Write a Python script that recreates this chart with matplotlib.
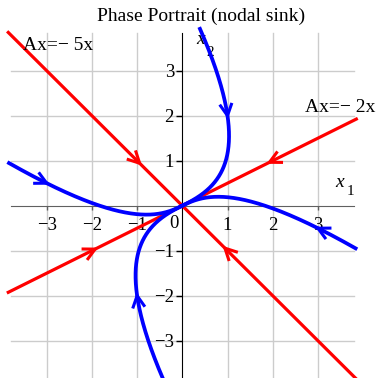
import numpy as np
import matplotlib
matplotlib.use("Agg")
import matplotlib.pyplot as plt

# x' = A x with A = P diag(eigvals) P^-1
eigvals = [-5.0, -2.0]
eigvecs = [(1.0, -1.0), (2.0, 1.0)]
eig_labels = ["Ax=\u2212 5x", "Ax=\u2212 2x"]
# trajectories through these points, with an arrow at each one
starts = [(1.0, 2.0), (-1.0, -2.0), (-3.0, 0.5), (3.0, -0.5)]
# arrows on the straight-line solutions
line_marks = [(-1.0, 1.0), (1.0, -1.0), (2.0, 1.0), (-2.0, -1.0)]
ticks = [-3, -2, -1, 1, 2, 3]
tick_labels = ["\u22123", "\u22122", "\u22121", "1", "2", "3"]
title = "Phase Portrait (nodal sink)"

plt.rcParams["font.family"] = ["Liberation Serif", "DejaVu Serif"]

P = np.array(eigvecs).T
A = P @ np.diag(eigvals) @ np.linalg.inv(P)

LIM = 3.85
BLUE = "#0000ff"
RED = "#ff0000"


def chevron(ax, tip, d, color, L=0.3, ang=27, lw=2.2):
    d = np.asarray(d, float)
    d = d / np.hypot(*d)
    xs, ys = [], []
    for s in (1, -1):
        a = np.radians(s * ang)
        R = np.array([[np.cos(a), -np.sin(a)], [np.sin(a), np.cos(a)]])
        arm = tip - L * (R @ d)
        xs.append(arm[0])
        ys.append(arm[1])
    ax.plot([xs[0], tip[0], xs[1]], [ys[0], tip[1], ys[1]], color=color, lw=lw,
            solid_joinstyle="miter", solid_capstyle="butt", zorder=5)


fig = plt.figure(figsize=(3.8, 3.78), dpi=100)
ax = fig.add_axes([0, 0, 1, 1])
ax.set_xlim(-182.3 / 45.2, (380 - 182.3) / 45.2)
ax.set_ylim((205.7 - 378) / 45.0, 205.7 / 45.0)

# grid
for g in ticks:
    ax.plot([g, g], [-3.83, 3.83], color="#cccccc", lw=1, zorder=0)
    ax.plot([-3.8, 3.8], [g, g], color="#cccccc", lw=1, zorder=0)

for s in ("top", "right"):
    ax.spines[s].set_visible(False)
ax.spines["bottom"].set_position(("data", 0))
ax.spines["left"].set_position(("data", 0))
ax.spines["bottom"].set_bounds(-3.8, 3.8)
ax.spines["left"].set_bounds(-3.83, 3.83)
ax.spines["bottom"].set_color("#606060")
ax.spines["left"].set_color("black")
ax.set_xticks(ticks)
ax.set_xticklabels(tick_labels)
ax.set_yticks(ticks)
ax.set_yticklabels(tick_labels)
ax.tick_params(axis="x", direction="out", length=3, width=1, color="#606060", pad=5,
               labelsize=13.5)
ax.tick_params(axis="y", direction="out", length=4, width=1, color="black", pad=2,
               labelsize=13.5)
ax.text(-0.08, -0.2, "0", ha="right", va="top", fontsize=13.5)

# straight-line solutions along the eigenvectors
for v in eigvecs:
    v = np.array(v)
    s = np.linspace(-LIM, LIM, 2) / abs(v[0])
    ax.plot(s * v[0], s * v[1], color=RED, lw=2.3, zorder=3)
for p in line_marks:
    p = np.array(p)
    d = A @ p
    chevron(ax, p + 0.08 * d / np.hypot(*d), d, RED)

# trajectories through the start points
t = np.linspace(-0.6, 6, 4000)
Pinv = np.linalg.inv(P)
for p in starts:
    p = np.array(p)
    c = Pinv @ p
    pts = sum(c[i] * np.exp(eigvals[i] * t)[:, None] * P[:, i] for i in range(2))
    keep = (np.abs(pts[:, 0]) <= LIM) & (pts[:, 1] <= 3.95) & (pts[:, 1] >= -3.95)
    ax.plot(pts[keep, 0], pts[keep, 1], color=BLUE, lw=2.7, zorder=4)
    chevron(ax, p, A @ p, BLUE)

# labels
ax.text(-3.52, 3.46, eig_labels[0], fontsize=14, ha="left", va="baseline")
ax.text(2.71, 2.08, eig_labels[1], fontsize=14, ha="left", va="baseline")
ax.text(3.38, 0.42, "x", fontsize=14, style="italic", ha="left", va="baseline")
ax.text(3.63, 0.24, "1", fontsize=11, ha="left", va="baseline")
ax.text(0.30, 3.59, "x", fontsize=14, style="italic", ha="left", va="baseline")
ax.text(0.53, 3.32, "2", fontsize=11, ha="left", va="baseline")
fig.text(201 / 380, 1 - 21 / 378, title, fontsize=14, ha="center", va="baseline")

fig.savefig("out.png", dpi=100)
